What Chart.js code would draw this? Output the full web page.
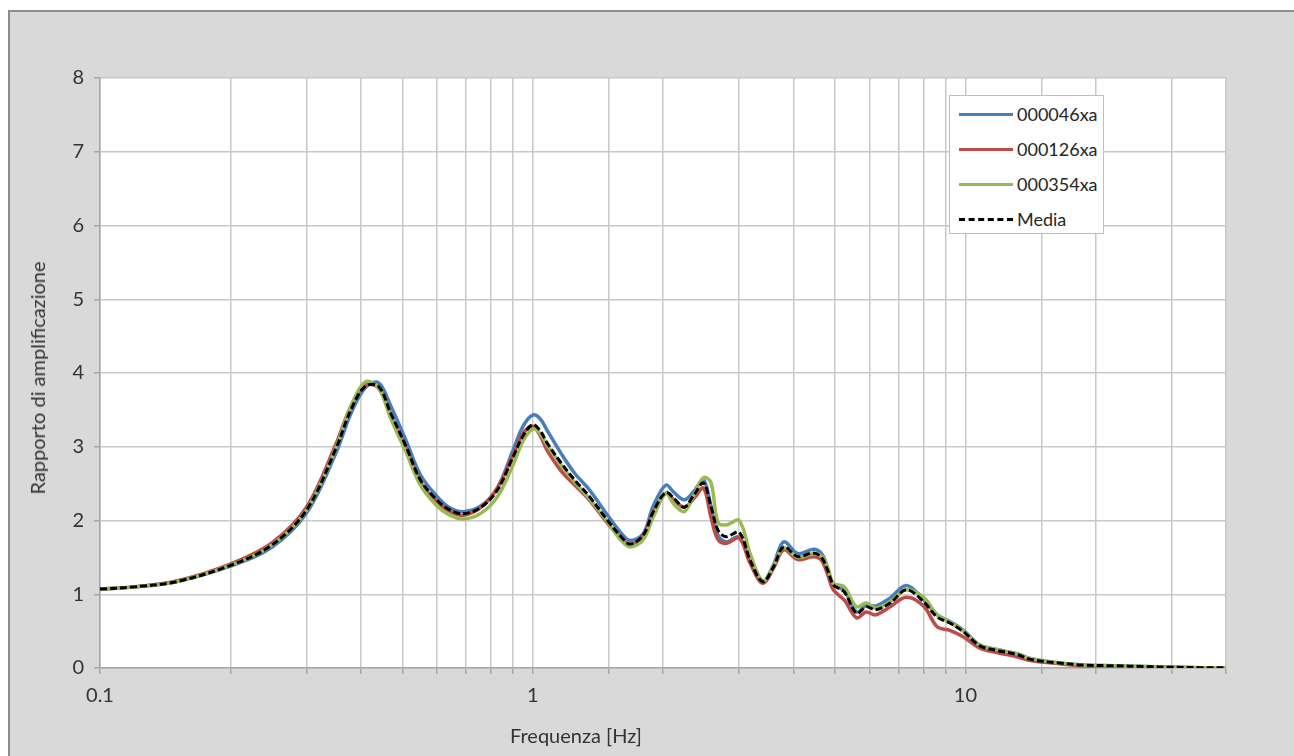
<!DOCTYPE html>
<html>
<head>
<meta charset="utf-8">
<script src="https://cdn.jsdelivr.net/npm/chart.js@4.4.1/dist/chart.umd.min.js"></script>
<style>
  html, body { margin: 0; padding: 0; background: #fff; overflow: hidden; }
  body { width: 1294px; height: 756px; position: relative; font-family: Lato, "Open Sans", sans-serif; color: #333; }
  #frame { position: absolute; left: 8px; top: 10px; width: 1300px; height: 760px; background: #d9d9d9; border: 2px solid #8c8c8c; box-sizing: border-box; }
  #wrap { position: absolute; left: 0; top: 0; width: 1294px; height: 756px; }
  .ytitle { position: absolute; left: 37px; top: 378px; transform: translate(-50%, -50%) rotate(-90deg); font-size: 20px; white-space: nowrap; }
  .xtitle { position: absolute; left: 576px; top: 735px; transform: translate(-50%, -50%); font-size: 20px; white-space: nowrap; }
  #legend { position: absolute; left: 949px; top: 95px; width: 155px; height: 139px; background: #fff; border: 1px solid #bfbfbf; box-sizing: border-box; }
  .row { position: absolute; left: 0; height: 22px; font-size: 18px; }
  .row .swatch { position: absolute; left: 9px; top: 10px; width: 54px; height: 0; }
  .row span { position: absolute; left: 67px; top: 0; line-height: 22px; white-space: nowrap; color: #262626; }
</style>
</head>
<body>
<div id="frame"></div>
<div id="wrap"><canvas id="chart" width="1294" height="756"></canvas></div>
<div class="ytitle">Rapporto di amplificazione</div>
<div class="xtitle">Frequenza [Hz]</div>
<div id="legend"></div>
<script>
// frequenze [Hz]
const freq = [0.1, 0.12, 0.15, 0.2, 0.25, 0.3, 0.35, 0.38, 0.41, 0.44, 0.47, 0.51, 0.55, 0.6, 0.64, 0.69, 0.76, 0.83, 0.9, 0.95,
  1.0, 1.04, 1.08, 1.16, 1.25, 1.35, 1.49, 1.6, 1.68, 1.8, 1.9, 2.03, 2.12, 2.24, 2.36, 2.48, 2.58, 2.68, 2.8, 3.0,
  3.18, 3.4, 3.6, 3.8, 4.1, 4.45, 4.65, 4.8, 4.95, 5.25, 5.6, 5.9, 6.2, 6.7, 7.3, 8.0, 8.6, 9.2, 9.9, 10.8,
  11.8, 13.2, 14.1, 16.3, 18.6, 22, 26, 30, 35, 40];

const s046 = [1.07, 1.10, 1.17, 1.38, 1.64, 2.10, 2.90, 3.45, 3.80, 3.87, 3.55, 3.08, 2.62, 2.33, 2.18, 2.12, 2.20, 2.45, 2.95, 3.28,
  3.43, 3.38, 3.22, 2.92, 2.64, 2.42, 2.07, 1.83, 1.73, 1.82, 2.20, 2.48, 2.38, 2.28, 2.40, 2.55, 2.20, 1.80, 1.71, 1.78,
  1.44, 1.17, 1.40, 1.71, 1.55, 1.61, 1.55, 1.36, 1.13, 1.05, 0.76, 0.85, 0.84, 0.95, 1.12, 0.93, 0.72, 0.63, 0.51, 0.31,
  0.25, 0.19, 0.13, 0.07, 0.04, 0.03, 0.02, 0.01, 0.005, 0.003];

const s126 = [1.07, 1.10, 1.18, 1.41, 1.70, 2.18, 3.02, 3.55, 3.83, 3.80, 3.42, 2.97, 2.52, 2.26, 2.13, 2.07, 2.18, 2.45, 2.88, 3.18,
  3.28, 3.15, 2.95, 2.68, 2.48, 2.28, 1.96, 1.76, 1.67, 1.80, 2.10, 2.37, 2.28, 2.18, 2.30, 2.44, 2.05, 1.74, 1.69, 1.76,
  1.42, 1.15, 1.35, 1.60, 1.47, 1.51, 1.46, 1.27, 1.06, 0.92, 0.68, 0.76, 0.72, 0.83, 0.96, 0.84, 0.56, 0.51, 0.42, 0.27,
  0.21, 0.15, 0.10, 0.06, 0.03, 0.02, 0.015, 0.01, 0.005, 0.003];

const s354 = [1.07, 1.10, 1.17, 1.39, 1.67, 2.14, 2.97, 3.55, 3.88, 3.80, 3.38, 2.92, 2.48, 2.20, 2.08, 2.02, 2.10, 2.33, 2.75, 3.08,
  3.24, 3.18, 3.02, 2.76, 2.52, 2.30, 1.98, 1.73, 1.64, 1.74, 2.05, 2.37, 2.22, 2.12, 2.35, 2.58, 2.52, 1.97, 1.94, 2.00,
  1.55, 1.18, 1.38, 1.63, 1.50, 1.55, 1.52, 1.37, 1.15, 1.10, 0.83, 0.88, 0.81, 0.90, 1.06, 0.96, 0.72, 0.62, 0.50, 0.31,
  0.25, 0.19, 0.13, 0.07, 0.04, 0.03, 0.02, 0.01, 0.005, 0.003];

const media = [1.07, 1.10, 1.17, 1.39, 1.67, 2.14, 2.96, 3.50, 3.82, 3.82, 3.45, 3.00, 2.55, 2.28, 2.15, 2.09, 2.18, 2.42, 2.86, 3.15,
  3.30, 3.22, 3.05, 2.79, 2.55, 2.33, 2.00, 1.78, 1.68, 1.80, 2.12, 2.38, 2.30, 2.18, 2.35, 2.51, 2.20, 1.87, 1.78, 1.84,
  1.46, 1.17, 1.37, 1.64, 1.51, 1.56, 1.50, 1.33, 1.13, 1.03, 0.74, 0.83, 0.79, 0.88, 1.06, 0.90, 0.69, 0.61, 0.49, 0.30,
  0.24, 0.18, 0.12, 0.07, 0.04, 0.03, 0.02, 0.01, 0.005, 0.003];

const seriesNames = ["000046xa", "000126xa", "000354xa", "Media"];
const xLabels = [0.1, 1, 10];
const yTicks = [0, 1, 2, 3, 4, 5, 6, 7, 8];

function pts(vals) {
  return freq.map((f, i) => ({ x: f, y: vals[i] }));
}

const styles = [
  { color: '#4a7ebb', width: 3.5, dash: [], order: 3 },
  { color: '#be4b48', width: 3.5, dash: [], order: 2 },
  { color: '#98b954', width: 3.5, dash: [], order: 1 },
  { color: '#000000', width: 3, dash: [7, 3], order: 0 }
];
const allSeries = [s046, s126, s354, media];

const datasets = allSeries.map((vals, i) => ({
  label: seriesNames[i],
  data: pts(vals),
  borderColor: styles[i].color,
  borderWidth: styles[i].width,
  borderDash: styles[i].dash,
  pointRadius: 0,
  fill: false,
  tension: 0.35,
  order: styles[i].order
}));

// white plot area
const plotBg = {
  id: 'plotBg',
  beforeDraw(chart) {
    const a = chart.chartArea;
    const ctx = chart.ctx;
    ctx.save();
    ctx.fillStyle = '#ffffff';
    ctx.fillRect(a.left, a.top, a.right - a.left, a.bottom - a.top);
    ctx.restore();
  }
};

new Chart(document.getElementById('chart').getContext('2d'), {
  type: 'line',
  data: { datasets: datasets },
  plugins: [plotBg],
  options: {
    responsive: false,
    animation: false,
    layout: { padding: { left: 0, top: 78, right: 68, bottom: 0 } },
    plugins: { legend: { display: false }, tooltip: { enabled: false } },
    scales: {
      x: {
        type: 'logarithmic',
        min: 0.1,
        max: 40,
        afterFit: (s) => { s.height = 88; },
        grid: { color: '#c8c8c8', lineWidth: 1.5, tickLength: 6, tickColor: '#a6a6a6' },
        border: { color: '#a6a6a6', width: 1.5 },
        ticks: {
          autoSkip: false,
          maxRotation: 0,
          padding: 10,
          color: '#333333',
          font: { family: 'Lato', size: 20 },
          callback: (v) => xLabels.includes(Number(v.toPrecision(3))) ? String(Number(v.toPrecision(3))) : ''
        }
      },
      y: {
        min: 0,
        max: 8,
        afterFit: (s) => { s.width = 100; },
        afterBuildTicks: (s) => { s.ticks = yTicks.map(v => ({ value: v })); },
        grid: { color: '#c8c8c8', lineWidth: 1.5, tickLength: 6, tickColor: '#a6a6a6' },
        border: { color: '#a6a6a6', width: 1.5 },
        ticks: { padding: 10, color: '#333333', font: { family: 'Lato', size: 20 } }
      }
    }
  }
});

// legend as html
const legend = document.getElementById('legend');
seriesNames.forEach((name, i) => {
  const row = document.createElement('div');
  row.className = 'row';
  row.style.top = (7 + i * 35) + 'px';
  const sw = document.createElement('div');
  sw.className = 'swatch';
  sw.style.borderTop = (i === 3 ? '3px dashed ' : '3.5px solid ') + styles[i].color;
  const t = document.createElement('span');
  t.textContent = name;
  row.appendChild(sw);
  row.appendChild(t);
  legend.appendChild(row);
});
</script>
</body>
</html>
